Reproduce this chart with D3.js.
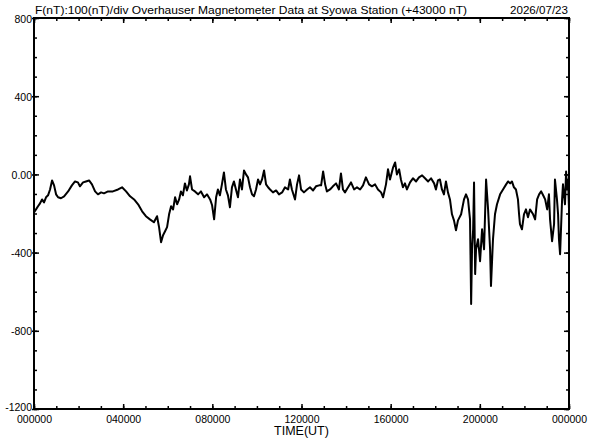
<!DOCTYPE html>
<html>
<head>
<meta charset="utf-8">
<script src="https://cdn.jsdelivr.net/npm/d3@7"></script>
<style>
  html, body { margin: 0; padding: 0; background: #fff; }
  svg { display: block; }
  text { font-family: "Liberation Sans", Arial, sans-serif; fill: #000; }
</style>
</head>
<body>
<svg id="chart" width="592" height="440"></svg>
<script>
// ---- data (hours UT, F - 43000 nT) ----
const timeHours = [
  0.00,0.09,0.18,0.27,0.36,0.45,0.54,0.63,0.72,0.81,0.90,0.99,1.08,1.21,1.35,1.53,1.70,1.84,1.97,2.06,
  2.20,2.33,2.47,2.60,2.74,2.87,3.01,3.14,3.32,3.54,3.77,3.95,4.13,4.31,4.49,4.67,4.85,5.02,5.20,5.38,
  5.52,5.61,5.70,5.79,5.88,5.97,6.06,6.15,6.24,6.33,6.42,6.51,6.59,6.68,6.77,6.86,6.95,7.00,7.09,7.22,
  7.36,7.49,7.63,7.76,7.90,7.99,8.08,8.17,8.25,8.34,8.43,8.52,8.61,8.70,8.79,8.88,8.97,9.06,9.15,9.24,
  9.33,9.42,9.51,9.60,9.69,9.78,9.87,9.96,10.05,10.14,10.23,10.32,10.41,10.50,10.59,10.72,10.86,10.99,11.13,11.26,
  11.40,11.48,11.57,11.71,11.80,11.89,11.98,12.11,12.25,12.38,12.52,12.65,12.79,12.88,12.97,13.06,13.14,13.28,13.41,13.55,
  13.68,13.77,13.86,13.95,14.09,14.22,14.36,14.49,14.63,14.76,14.89,15.03,15.16,15.30,15.43,15.57,15.66,15.79,15.88,15.97,
  16.11,16.20,16.28,16.38,16.46,16.55,16.64,16.73,16.87,17.00,17.14,17.27,17.41,17.54,17.68,17.81,17.95,18.03,18.12,18.21,
  18.30,18.39,18.48,18.57,18.66,18.75,18.84,18.93,19.02,19.16,19.29,19.38,19.47,19.56,19.61,19.65,19.70,19.74,19.79,19.83,
  19.92,20.01,20.10,20.19,20.28,20.37,20.46,20.50,20.59,20.68,20.77,20.91,21.04,21.18,21.27,21.36,21.44,21.53,21.62,21.71,
  21.76,21.80,21.89,21.98,22.07,22.16,22.25,22.39,22.48,22.57,22.66,22.75,22.84,22.93,23.02,23.10,23.15,23.24,23.33,23.37,
  23.46,23.51,23.55,23.60,23.69,23.73,23.82,23.87,23.91,23.96,24.00
];
const fValues = [
  -194,-179,-163,-148,-128,-143,-117,-107,-77,-31,-56,-102,-117,-122,-112,-87,-56,-36,-41,-61,
  -41,-36,-31,-51,-87,-102,-92,-97,-87,-87,-77,-66,-87,-112,-128,-153,-189,-214,-230,-245,
  -214,-270,-347,-311,-291,-270,-204,-163,-179,-117,-153,-128,-87,-107,-46,-82,-51,-10,-77,-87,
  -102,-87,-117,-102,-128,-158,-230,-117,-77,-107,-51,10,-77,-107,-168,-66,-36,-77,-117,-26,
  -77,20,0,-15,-66,-102,-112,-77,-26,-51,-26,20,-51,-66,-77,-92,-82,-102,-92,-66,
  -77,-26,-77,-128,-51,-5,-77,-92,-77,-66,-82,-61,-56,-56,15,-51,-87,-77,-61,-46,
  -77,5,-77,-92,-66,-41,-77,-66,-77,-56,-15,-51,-61,-51,-77,-92,-117,-51,26,-26,
  36,61,0,26,-26,-66,-46,-77,-41,-20,-36,-15,-5,-20,-36,-20,-46,-77,-31,-26,
  -77,-102,-36,-92,-128,-204,-235,-286,-235,-204,-128,-102,-128,-230,-663,-383,-281,-41,-510,-383,
  -332,-444,-281,-383,-26,-179,-383,-571,-332,-204,-153,-102,-77,-51,-36,-46,-36,-66,-77,-128,
  -204,-255,-281,-204,-179,-219,-179,-204,-230,-128,-102,-87,-107,-128,-179,-102,-230,-342,-255,-26,
  -128,-204,-332,-408,-128,-51,-153,15,-77,-26,-179
];
const yTickValues = [800, 400, 0, -400, -800, -1200];
const yTickLabels = ["800", "400", "0.00", "-400", "-800", "-1200"];
const xMajorTicks = [0, 4, 8, 12, 16, 20, 24];
const xTickLabels = ["000000", "040000", "080000", "120000", "160000", "200000", "000000"];
const titleText = "F(nT):100(nT)/div  Overhauser Magnetometer Data at Syowa Station (+43000 nT)";
const dateText = "2026/07/23";
const xAxisTitle = "TIME(UT)";

// ---- layout ----
const L = 34, R = 569, T = 18, B = 409;
const svg = d3.select("#chart");
const x = d3.scaleLinear().domain([0, 24]).range([L, R]);
const y = d3.scaleLinear().domain([-1200, 800]).range([B, T]);

const xMinor = d3.range(0, 25, 1);
const yMinor = d3.range(-1200, 801, 100);

// data line (clipped)
svg.append("clipPath").attr("id", "clip")
  .append("rect").attr("x", L).attr("y", T).attr("width", R - L).attr("height", B - T);

const pts = timeHours.map((t, i) => [t, fValues[i]]);
svg.append("path")
  .datum(pts)
  .attr("clip-path", "url(#clip)")
  .attr("fill", "none")
  .attr("stroke", "#000")
  .attr("stroke-width", 2)
  .attr("stroke-linejoin", "round")
  .attr("d", d3.line().x(d => x(d[0])).y(d => y(d[1])));

function styleAxis(g) {
  g.select(".domain").remove();
  g.selectAll(".tick line").attr("stroke", "#000").attr("stroke-width", 1.5);
}

// bottom axis: minor then major with labels
svg.append("g").attr("transform", `translate(0,${B})`)
  .call(d3.axisBottom(x).tickValues(xMinor).tickSize(-3).tickFormat(""))
  .call(styleAxis);
svg.append("g").attr("transform", `translate(0,${B})`)
  .call(d3.axisBottom(x).tickValues(xMajorTicks).tickSize(-5).tickPadding(7)
        .tickFormat((d, i) => xTickLabels[i]))
  .call(styleAxis)
  .call(g => g.selectAll("text").attr("font-size", "10.5px").attr("font-family", "Liberation Sans, Arial, sans-serif"));

// top axis: ticks pointing down
svg.append("g").attr("transform", `translate(0,${T})`)
  .call(d3.axisTop(x).tickValues(xMinor).tickSize(-3).tickFormat(""))
  .call(styleAxis);
svg.append("g").attr("transform", `translate(0,${T})`)
  .call(d3.axisTop(x).tickValues(xMajorTicks).tickSize(-5).tickFormat(""))
  .call(styleAxis);

// left axis
svg.append("g").attr("transform", `translate(${L},0)`)
  .call(d3.axisLeft(y).tickValues(yMinor).tickSize(-3).tickFormat(""))
  .call(styleAxis);
svg.append("g").attr("transform", `translate(${L},0)`)
  .call(d3.axisLeft(y).tickValues(yTickValues).tickSize(2).tickPadding(0)
        .tickFormat((d, i) => yTickLabels[i]))
  .call(styleAxis)
  .call(g => g.selectAll("text").attr("font-size", "10.5px")
        .attr("dy", d => d === -1200 ? "0.12em" : "0.38em")
        .attr("font-family", "Liberation Sans, Arial, sans-serif"));
svg.append("g").attr("transform", `translate(${L},0)`)
  .call(d3.axisLeft(y).tickValues(yTickValues).tickSize(-5).tickFormat(""))
  .call(styleAxis);

// right axis: ticks pointing left
svg.append("g").attr("transform", `translate(${R},0)`)
  .call(d3.axisRight(y).tickValues(yMinor).tickSize(-3).tickFormat(""))
  .call(styleAxis);
svg.append("g").attr("transform", `translate(${R},0)`)
  .call(d3.axisRight(y).tickValues(yTickValues).tickSize(-5).tickFormat(""))
  .call(styleAxis);

// frame
svg.append("rect")
  .attr("x", L).attr("y", T).attr("width", R - L).attr("height", B - T)
  .attr("fill", "none").attr("stroke", "#000").attr("stroke-width", 2);

// titles
svg.append("text").attr("x", L + 1).attr("y", 14)
  .attr("font-size", "11.5px").attr("textLength", 432).attr("lengthAdjust", "spacingAndGlyphs")
  .text(titleText);
svg.append("text").attr("x", 568).attr("y", 14).attr("text-anchor", "end")
  .attr("font-size", "11.5px").attr("textLength", 58).attr("lengthAdjust", "spacingAndGlyphs")
  .text(dateText);
svg.append("text").attr("x", (L + R) / 2).attr("y", 435).attr("text-anchor", "middle")
  .attr("font-size", "12.5px")
  .text(xAxisTitle);
</script>
</body>
</html>
